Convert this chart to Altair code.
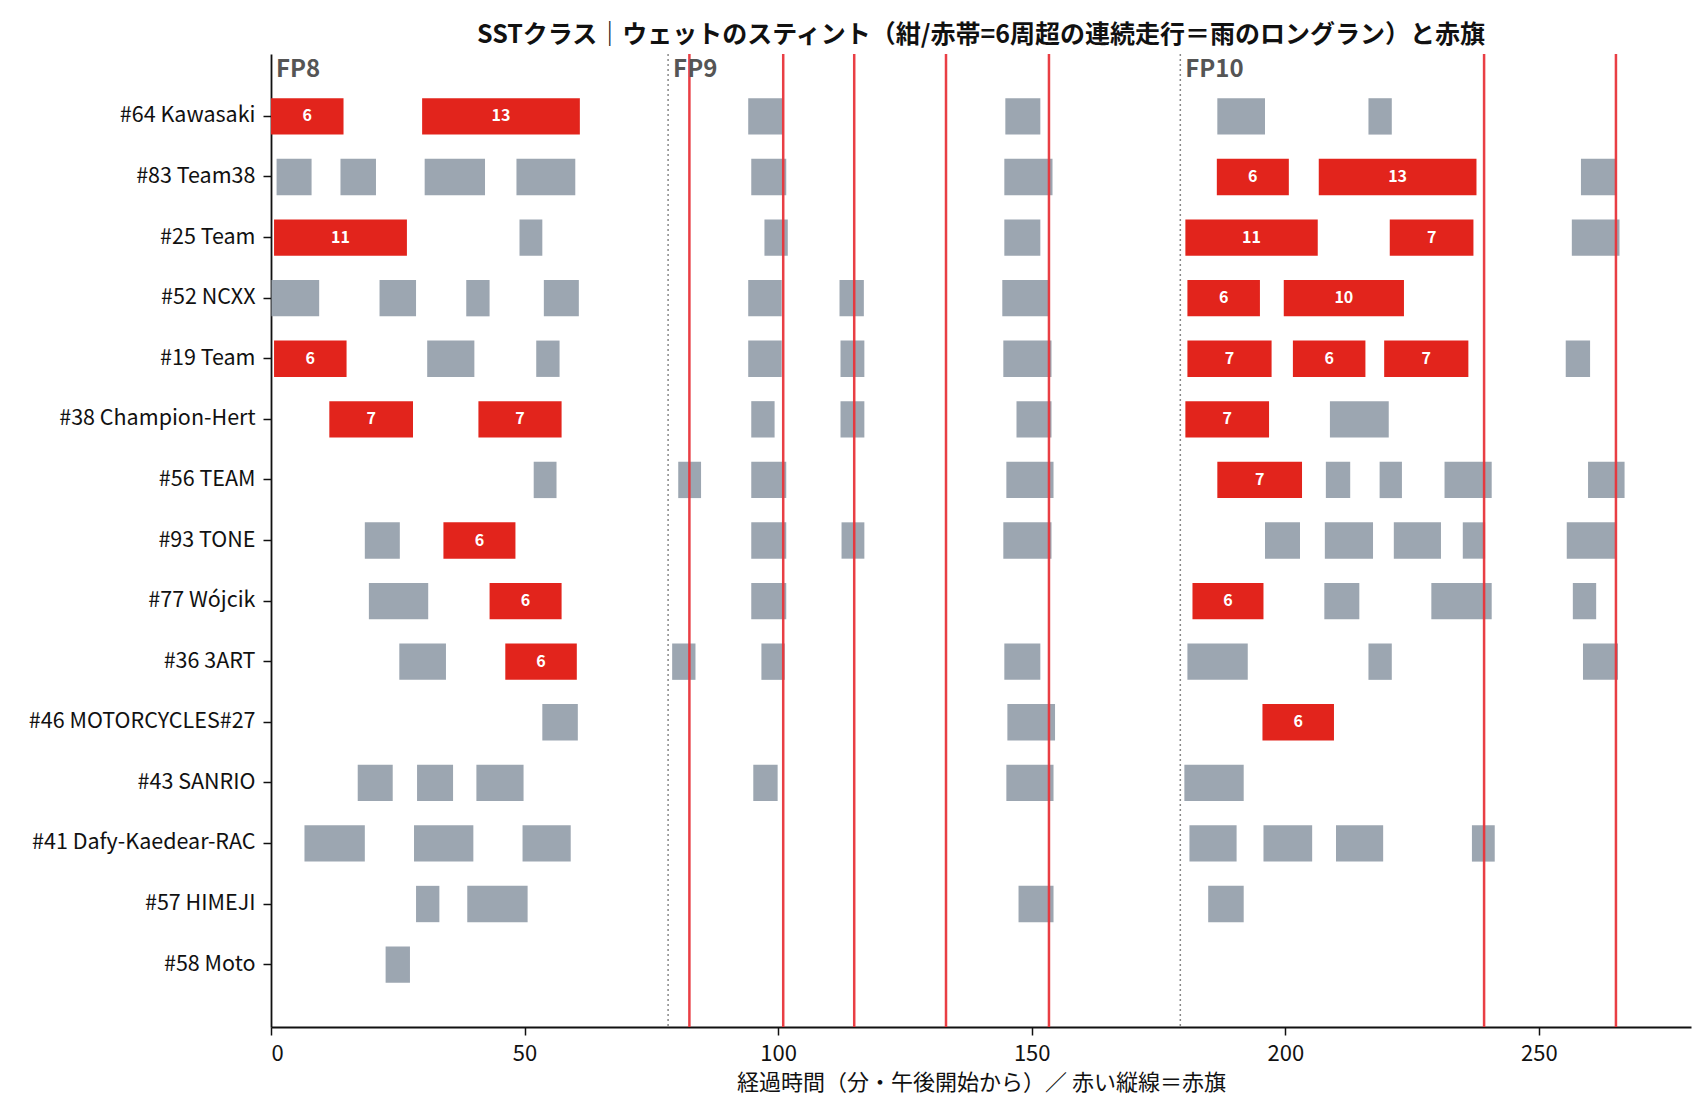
import altair as alt
import pandas as pd

FONT = "Noto Sans CJK JP"

teams = [
    "#64 Kawasaki", "#83 Team38", "#25 Team", "#52 NCXX", "#19 Team",
    "#38 Champion-Hert", "#56 TEAM", "#93 TONE", "#77 Wójcik", "#36 3ART",
    "#46 MOTORCYCLES#27", "#43 SANRIO", "#41 Dafy-Kaedear-RAC", "#57 HIMEJI", "#58 Moto",
]

# wet long-run stints (red, > 6 laps), team index / start / end (minutes) / laps
wet_team  = [0, 0, 1, 1, 2, 2, 2, 3, 3, 4, 4, 4, 4, 5, 5, 5, 6, 7, 8, 8, 9, 10]
wet_start = [0.0, 29.8, 186.5, 206.6, 0.6, 180.3, 220.6, 180.7, 199.7, 0.6, 180.7, 201.5, 219.5,
             11.5, 40.9, 180.3, 186.6, 34.0, 43.1, 181.7, 46.2, 195.5]
wet_end   = [14.3, 60.9, 200.7, 237.7, 26.8, 206.4, 237.1, 195.0, 223.4, 14.9, 197.3, 215.8, 236.1,
             28.0, 57.3, 196.8, 203.3, 48.2, 57.3, 195.7, 60.3, 209.6]
wet_laps  = [6, 13, 6, 13, 11, 11, 7, 6, 10, 6, 7, 6, 7, 7, 7, 7, 7, 6, 6, 6, 6, 6]

# other stints (gray)
gray_team = (
    [0] * 4 + [1] * 7 + [2] * 4 + [3] * 7 + [4] * 6 + [5] * 4 + [6] * 8 + [7] * 9
    + [8] * 5 + [9] * 7 + [10] * 2 + [11] * 6 + [12] * 7 + [13] * 4 + [14] * 1
)
gray_start = [
    94.1, 144.8, 186.6, 216.4,
    1.1, 13.7, 30.3, 48.4, 94.7, 144.6, 258.3,
    49.0, 97.3, 144.6, 256.5,
    0.1, 21.4, 38.5, 53.8, 94.1, 112.1, 144.2,
    30.8, 52.3, 94.1, 112.3, 144.4, 255.3,
    94.7, 112.3, 147.0, 208.8,
    51.8, 80.3, 94.7, 145.0, 208.0, 218.6, 231.4, 259.7,
    18.5, 94.7, 112.5, 144.4, 196.0, 207.8, 221.4, 235.0, 255.5,
    19.3, 94.7, 207.7, 228.8, 256.7,
    25.3, 79.1, 96.7, 144.6, 180.7, 216.4, 258.7,
    53.5, 145.2,
    17.1, 28.8, 40.5, 95.1, 145.0, 180.1,
    6.6, 28.2, 49.6, 181.1, 195.7, 210.0, 236.8,
    28.6, 38.7, 147.4, 184.8,
    22.6,
]
gray_end = [
    100.9, 151.7, 196.0, 221.0,
    8.0, 20.7, 42.2, 60.0, 101.6, 154.1, 265.2,
    53.5, 101.9, 151.7, 265.9,
    9.5, 28.6, 43.1, 60.7, 100.7, 116.9, 153.5,
    40.1, 56.9, 100.7, 117.0, 153.9, 260.1,
    99.3, 117.0, 153.9, 220.4,
    56.3, 84.8, 101.6, 154.3, 212.8, 223.0, 240.7, 266.9,
    25.4, 101.6, 117.0, 153.9, 202.9, 217.3, 230.7, 239.4, 265.1,
    31.0, 101.6, 214.6, 240.7, 261.3,
    34.5, 83.7, 101.3, 151.7, 192.6, 221.0, 265.6,
    60.5, 154.6,
    24.0, 35.9, 49.8, 99.9, 154.3, 191.8,
    18.5, 39.9, 59.1, 190.4, 205.3, 219.3, 241.3,
    33.2, 50.6, 154.3, 191.8,
    27.4,
]

red_flags = [82.5, 101.0, 115.0, 133.1, 153.4, 239.2, 265.2]
session_names = ["FP8", "FP9", "FP10"]
session_starts = [0.0, 78.3, 179.3]

RED = "#E2241C"
GRAY = "#9CA6B1"
FLAG = "#E8343A"
X_TITLE = "経過時間（分・午後開始から）／ 赤い縦線＝赤旗"

wet_df = pd.DataFrame({
    "team": [teams[i] for i in wet_team],
    "start": wet_start, "end": wet_end, "laps": wet_laps,
})
gray_df = pd.DataFrame({
    "team": [teams[i] for i in gray_team],
    "start": gray_start, "end": gray_end,
})
flag_df = pd.DataFrame({"t": red_flags})
sess_df = pd.DataFrame({"name": session_names, "t": session_starts})

xscale = alt.Scale(domain=[0, 280], nice=False, zero=False)
yscale = alt.Scale(domain=teams, paddingInner=0.4, paddingOuter=0.73)

x_axis = alt.Axis(values=[0, 50, 100, 150, 200, 250], title=X_TITLE)
y_axis = alt.Axis(title=None)


def X(field):
    return alt.X(field, scale=xscale, axis=x_axis)


def Y():
    return alt.Y("team:N", scale=yscale, sort=teams, axis=y_axis)


gray_bars = alt.Chart(gray_df).mark_bar(color=GRAY, cornerRadius=0).encode(
    x=X("start:Q"), x2="end:Q", y=Y(),
)

wet_bars = alt.Chart(wet_df).mark_bar(color=RED, cornerRadius=0).encode(
    x=X("start:Q"), x2="end:Q", y=Y(),
)

wet_text = alt.Chart(wet_df).transform_calculate(
    mid="(datum.start + datum.end) / 2"
).mark_text(color="white", fontWeight="bold", fontSize=16, font=FONT, baseline="middle").encode(
    x=X("mid:Q"), y=Y(), text="laps:Q",
)

flags = alt.Chart(flag_df).mark_rule(color=FLAG, strokeWidth=2.5, opacity=0.95).encode(
    x=X("t:Q"),
)

sess_lines = alt.Chart(sess_df[sess_df["t"] > 0]).mark_rule(
    color="#888", strokeWidth=1.5, strokeDash=[2, 3]
).encode(
    x=X("t:Q"),
)

sess_text = alt.Chart(sess_df).mark_text(
    color="#555", fontWeight="bold", fontSize=24, font=FONT, align="left", baseline="middle", dx=5
).encode(
    x=X("t:Q"), y=alt.value(16), text="name:N",
)

chart = alt.layer(gray_bars, wet_bars, wet_text, sess_lines, flags, sess_text).properties(
    width=1420, height=973,
    title=alt.TitleParams(
        "SSTクラス｜ウェットのスティント（紺/赤帯=6周超の連続走行＝雨のロングラン）と赤旗",
        fontSize=25, fontWeight="bold", color="#111", font=FONT, anchor="middle", offset=5,
    ),
    padding={"left": 20, "top": 14, "right": 5, "bottom": 5},
).configure(font=FONT).configure_view(stroke=None).configure_axis(
    grid=False, domainColor="#111", domainWidth=1.8, tickColor="#111", tickWidth=1.5,
    labelColor="#111", labelFont=FONT, titleFont=FONT,
    titleFontSize=22, titleFontWeight="normal", titleColor="#111",
).configure_axisX(
    labelFontSize=22, tickSize=8, labelPadding=8, titlePadding=8,
).configure_axisY(
    labelFontSize=21.5, tickSize=8, labelPadding=8, labelLimit=400,
)

chart.save("out.html", embed_options={"renderer": "svg", "actions": False})
